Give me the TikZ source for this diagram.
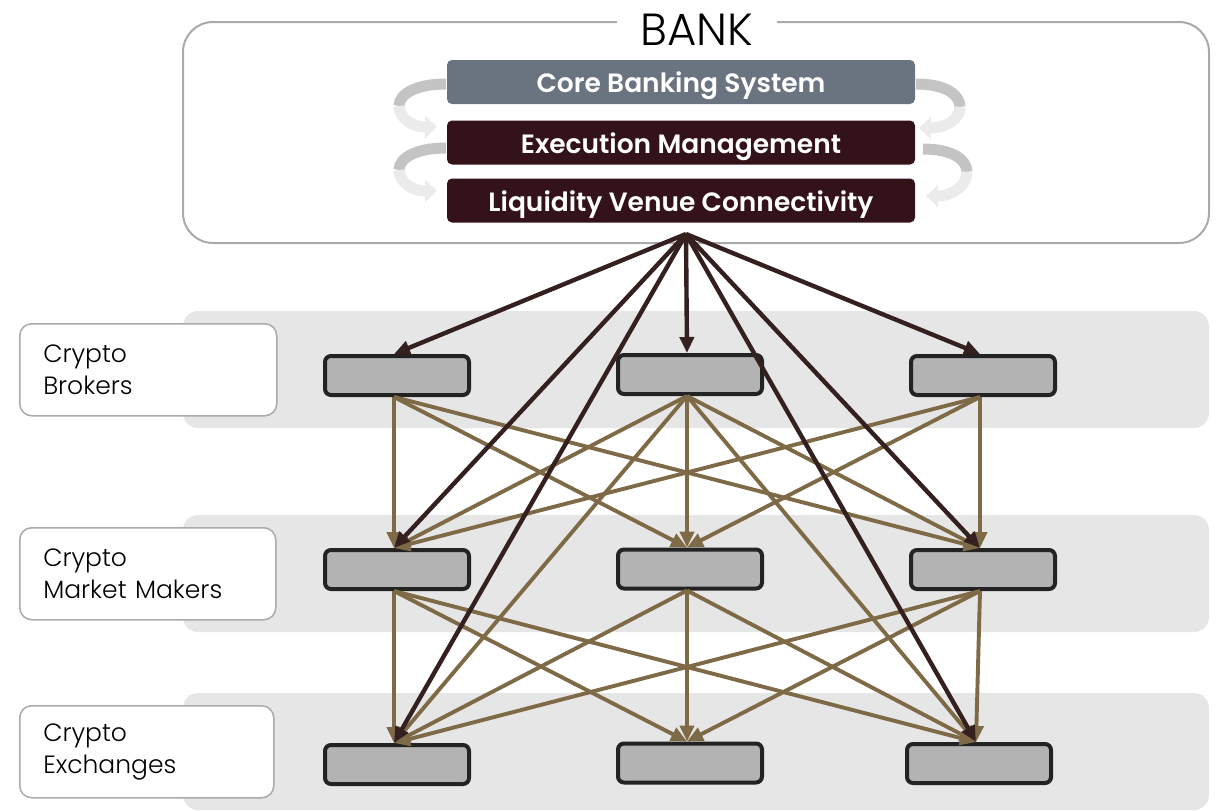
\documentclass[tikz,border=0pt]{standalone}
\usepackage{fontspec}
\setmainfont{Poppins}[BoldFont={Poppins SemiBold}]
\newfontfamily\lightfont{Poppins Light}
\usetikzlibrary{arrows.meta}
\definecolor{coreC}{HTML}{6A7480}
\definecolor{maroonC}{HTML}{34121A}
\definecolor{darkA}{HTML}{33201F}
\definecolor{brownA}{HTML}{7F6A47}
\definecolor{bandC}{HTML}{E6E6E6}
\definecolor{nodeC}{HTML}{B3B3B3}
\definecolor{frameC}{HTML}{AAAAAA}
\definecolor{borderC}{HTML}{232323}
\definecolor{swirlA}{HTML}{C4C4C4}
\definecolor{swirlB}{HTML}{EBEBEB}
\tikzset{
  band/.style={fill=bandC, rounded corners=15pt},
  layerlabel/.style={draw=frameC, line width=1.5pt, fill=white, rounded corners=12pt,
    minimum width=257pt, minimum height=92pt, text width=#1, inner xsep=23.5pt,
    align=left, anchor=north west, font=\lightfont\fontsize{25}{32}\selectfont, text=black},
  bankbox/.style={rounded corners=5pt, minimum width=468pt, minimum height=44pt,
    text=white, font=\fontsize{26.5}{28}\selectfont\bfseries, inner sep=0pt,
    text height=21pt, text depth=0pt},
  venue/.style={draw=borderC, line width=4pt, fill=nodeC, rounded corners=6pt,
    minimum width=144pt, minimum height=39pt, inner sep=0pt},
  darkarrow/.style={draw=darkA, line width=4.4pt, -{Triangle[length=16pt,width=14pt]}},
  brownarrow/.style={draw=brownA, line width=3.9pt, -{Triangle[length=16pt,width=14pt]}},
  swirl1/.style={draw=swirlA, line width=11pt},
  swirl2/.style={draw=swirlB, line width=11pt, -{Triangle[length=12pt,width=22pt]}},
}
\begin{document}
\begin{tikzpicture}[x=1pt,y=-1pt]
\useasboundingbox (0,0) rectangle (1218,811);
% layer bands
\fill[band] (183,311) rectangle (1209,428);
\fill[band] (183,515) rectangle (1209,632);
\fill[band] (183,693) rectangle (1209,810);
% layer labels
\node[layerlabel=210pt] (lbroker) at (19,323) {Crypto\\Brokers};
\node[layerlabel=209pt, minimum width=256pt] (lmm) at (19,527) {Crypto\\Market Makers};
\node[layerlabel=207pt, minimum width=254pt] (lex) at (19,705) {Crypto\\Exchanges};
% bank frame
\draw[frameC, line width=2pt, rounded corners=30pt] (617,22) -- (183,22) -- (183,243) -- (1209,243) -- (1209,22) -- (777,22);
\node[font=\lightfont\fontsize{45}{45}\selectfont, inner sep=0pt] (bank) at (697,30) {BANK};
% bank boxes
\node[bankbox, fill=coreC] (core) at (681,82) {Core Banking System};
\node[bankbox, fill=maroonC] (exec) at (681,142.5) {Execution Management};
\node[bankbox, fill=maroonC] (liq) at (681,200.5) {Liquidity Venue Connectivity};
% swirl arrows left
\draw[swirl1] (446,84) .. controls (416,84) and (399,94) .. (399,106);
\draw[swirl2] (399,106) .. controls (399,118) and (412,127) .. (437,127);
\draw[swirl1] (446,148) .. controls (416,148) and (399,158) .. (399,170);
\draw[swirl2] (399,170) .. controls (399,182) and (412,191) .. (437,191);
% swirl arrows right
\draw[swirl1] (916,84) .. controls (946,84) and (960,95) .. (960,107);
\draw[swirl2] (960,107) .. controls (960,119) and (946,128) .. (919,128);
\draw[swirl1] (923,149) .. controls (953,149) and (967,160) .. (967,172);
\draw[swirl2] (967,172) .. controls (967,185) and (953,196) .. (926,196);
% venue nodes
\node[venue] (a1) at (397,375.5) {};
\node[venue] (a2) at (690,374.5) {};
\node[venue] (a3) at (983,375.5) {};
\node[venue] (b1) at (397,569.5) {};
\node[venue] (b2) at (690,569) {};
\node[venue] (b3) at (983,569.5) {};
\node[venue] (c1) at (397,764.5) {};
\node[venue] (c2) at (690,763) {};
\node[venue] (c3) at (979,763.5) {};
\coordinate (hub) at (686,234);
% brown arrows A -> B and B -> C
\foreach \s in {a1,a2,a3}{
  \foreach \t in {b1,b2,b3}{
    \draw[brownarrow] ([xshift=-3pt]\s.south) -- ([xshift=-3pt]\t.north);
  }
}
\foreach \s in {b1,b2,b3}{
  \foreach \t in {c1,c2,c3}{
    \draw[brownarrow] ([xshift=-3pt]\s.south) -- ([xshift=-3pt]\t.north);
  }
}
\draw[brownarrow] ([xshift=-3pt]a2.south) -- ([xshift=-3pt]c1.north);
\draw[brownarrow] ([xshift=-3pt]a2.south) -- ([xshift=-3pt]c3.north);
% dark arrows from hub
\foreach \t in {a1,a2,a3,b1,b3,c1,c3}{
  \draw[darkarrow] (hub) -- ([xshift=-3pt]\t.north);
}
\end{tikzpicture}
\end{document}
